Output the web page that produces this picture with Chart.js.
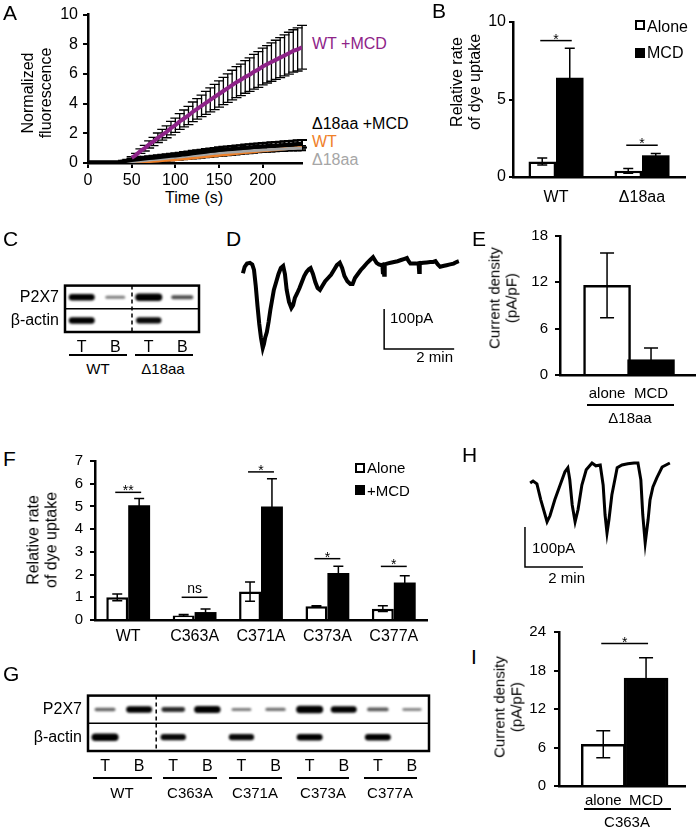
<!DOCTYPE html>
<html>
<head>
<meta charset="utf-8">
<script src="https://cdn.jsdelivr.net/npm/chart.js@4.4.0/dist/chart.umd.min.js"></script>
<style>
  body { margin: 0; background: #fff; width: 700px; height: 829px; position: relative; overflow: hidden;
         font-family: "Liberation Sans", Arial, sans-serif; color: #000; }
  .t { position: absolute; white-space: pre; line-height: 1.1; }
  .ln { position: absolute; background: #000; }
  .sw { position: absolute; box-sizing: border-box; border: 2.5px solid #000; }
</style>
</head>
<body>
<script>
// ---------- A: dye uptake time course ----------
var aTime = [0,5,10,15,20,25,30,35,40,45,50,55,60,65,70,75,80,85,90,95,100,105,110,115,120,125,130,135,140,145,150,155,160,165,170,175,180,185,190,195,200,205,210,215,220,225,230,235,240,245];
var aWtMcd = [null,null,null,null,null,null,null,null,null,null,
  0.35,0.55,0.8,1.0,1.25,1.45,1.7,1.9,2.1,2.35,2.55,2.8,3.0,3.2,3.45,3.65,3.85,4.05,4.25,4.45,
  4.65,4.85,5.05,5.25,5.45,5.6,5.8,5.95,6.15,6.3,6.5,6.65,6.8,6.95,7.1,7.25,7.4,7.55,7.65,7.8];
var aWtMcdErr = [0,0,0,0,0,0,0,0,0,0,
  0.07,0.1,0.15,0.19,0.24,0.28,0.32,0.36,0.4,0.45,0.48,0.53,0.57,0.61,0.66,0.69,0.73,0.77,0.81,0.85,
  0.88,0.92,0.96,1.0,1.04,1.06,1.1,1.13,1.17,1.2,1.24,1.26,1.29,1.32,1.35,1.38,1.41,1.43,1.45,1.48];
var aD18Mcd = [0.05,0.05,0.05,0.05,0.05,0.05,0.05,0.05,
  0.1,0.15,0.2,0.24,0.27,0.3,0.33,0.36,0.39,0.42,0.45,0.48,0.5,0.54,0.58,0.61,0.65,0.69,0.72,0.76,
  0.8,0.83,0.87,0.9,0.93,0.95,0.98,1.0,1.03,1.05,1.08,1.1,1.12,1.14,1.16,1.18,1.2,1.22,1.24,1.26,1.28,1.3];
var aD18McdErr = [0,0,0,0,0,0,0,0,
  0.05,0.07,0.09,0.1,0.11,0.12,0.12,0.13,0.13,0.14,0.14,0.15,0.15,0.15,0.16,0.16,0.17,0.17,0.17,0.18,
  0.18,0.18,0.19,0.19,0.19,0.2,0.2,0.2,0.21,0.21,0.21,0.22,0.22,0.22,0.23,0.23,0.23,0.24,0.24,0.24,0.25,0.25];
var aD18 = [0.05,0.05,0.05,0.05,0.05,0.05,0.05,0.05,0.05,0.05,
  0.08,0.11,0.14,0.17,0.2,0.23,0.26,0.29,0.32,0.35,0.38,0.41,0.44,0.47,0.5,0.53,0.56,0.59,0.62,0.65,
  0.67,0.7,0.72,0.74,0.76,0.78,0.8,0.82,0.84,0.86,0.88,0.89,0.91,0.92,0.94,0.95,0.97,0.98,0.99,1.0];
var aD18Err = [0,0,0,0,0,0,0,0,0,0,
  0.03,0.03,0.04,0.04,0.05,0.05,0.06,0.06,0.07,0.07,0.08,0.08,0.09,0.09,0.1,0.1,0.1,0.11,0.11,0.11,
  0.12,0.12,0.12,0.12,0.13,0.13,0.13,0.13,0.14,0.14,0.14,0.14,0.15,0.15,0.15,0.15,0.15,0.16,0.16,0.16];
var aWt = [0.02,0.02,0.02,0.02,0.02,0.02,0.02,0.02,0.02,0.02,
  0.02,0.04,0.06,0.08,0.1,0.12,0.14,0.16,0.18,0.2,0.22,0.25,0.28,0.31,0.34,0.37,0.4,0.43,0.46,0.49,
  0.52,0.55,0.58,0.61,0.64,0.67,0.7,0.73,0.76,0.79,0.82,0.85,0.88,0.9,0.93,0.96,0.98,1.0,1.02,1.05];
var aWtErr = [0,0,0,0,0,0,0,0,0,0,
  0.01,0.01,0.02,0.02,0.02,0.03,0.03,0.03,0.04,0.04,0.04,0.05,0.05,0.05,0.06,0.06,0.06,0.06,0.07,0.07,
  0.07,0.07,0.08,0.08,0.08,0.08,0.08,0.09,0.09,0.09,0.09,0.09,0.1,0.1,0.1,0.1,0.1,0.1,0.11,0.11];

// ---------- B: relative rate of dye uptake ----------
var bCats = ['WT', 'Δ18aa'];
var bAlone = [1.0, 0.4];
var bAloneErr = [0.22, 0.15];
var bMcd = [6.4, 1.4];
var bMcdErr = [1.9, 0.12];
var bSig = [{i: 0, y: 8.8, text: '*'}, {i: 1, y: 2.05, text: '*'}];

// ---------- C: blot ----------
var cLanes = ['T', 'B', 'T', 'B'];
var cRows = ['P2X7', 'β-actin'];
var cP2X7 = [0.9, 0.35, 1.0, 0.55];
var cActin = [0.9, 0, 0.85, 0];

// ---------- D: current trace (s, pA) ----------
var dTime = [5,8,12,17,21,24,27,30,33,36,39,41,43,46,49,52,55,58,62,66,70,74,77,80,84,88,91,94,98,102,106,110,114,118,121,125,129,133,137,141,146,151,156,161,166,171,175,179,184,189,193,197,202,207,212,218,223,228,231,234,238,242,244,245,246,247,248,252,258,264,270,276,282,286,289,292,296,302,306,307,308,314,320,326,331,335,339,343,348,354,360,366,371,375];
var dCurrent = [-38,-22,-14,-12,-16,-30,-70,-120,-165,-200,-225,-215,-200,-185,-160,-130,-105,-80,-60,-40,-25,-20,-40,-80,-110,-125,-118,-100,-88,-75,-60,-45,-35,-28,-25,-40,-60,-75,-80,-70,-58,-50,-42,-30,-18,-12,-25,-45,-58,-65,-65,-50,-40,-30,-22,-12,-5,2,-5,-12,-16,-18,-17,-40,-18,-42,-16,-14,-12,-10,-8,-5,-2,0,-8,-14,-14,-14,-13,-35,-13,-12,-11,-10,-10,-8,-16,-22,-20,-18,-16,-14,-10,-8];
var dBarT = [247, 247, 367];
var dBarI = [-127.5, -227.5, -227.5];

// ---------- E: current density, delta18aa ----------
var eCats = ['alone', 'MCD'];
var eVals = [11.6, 2.0];
var eErr = [4.2, 1.5];

// ---------- F: cysteine mutants ----------
var fCats = ['WT', 'C363A', 'C371A', 'C373A', 'C377A'];
var fAlone = [1.0, 0.2, 1.25, 0.6, 0.5];
var fAloneErr = [0.15, 0.04, 0.42, 0.03, 0.13];
var fMcd = [5.05, 0.35, 5.0, 2.07, 1.65];
var fMcdErr = [0.3, 0.13, 1.22, 0.3, 0.3];
var fSig = [{i: 0, y: 5.62, text: '**'}, {i: 1, y: 1.0, text: 'ns'}, {i: 2, y: 6.52, text: '*'},
            {i: 3, y: 2.7, text: '*'}, {i: 4, y: 2.36, text: '*'}];

// ---------- G: blot ----------
var gLanes = ['T','B','T','B','T','B','T','B','T','B'];
var gRows = ['P2X7', 'β-actin'];
var gP2X7 = [0.45, 0.9, 0.7, 0.95, 0.35, 0.4, 1.0, 0.9, 0.5, 0.3];
var gActin = [1.0, 0, 0.85, 0, 0.85, 0, 0.9, 0, 0.9, 0];

// ---------- H: current trace C363A ----------
var hTime = [21,27,35,43,52,56,62,72,83,93,99,103,108,114,120,128,137,149,157,166,172,176,180,184,190,197,201,211,223,236,244,250,254,259,265,269,275,283,294,302,310];
var hCurrent = [-50,-45,-52,-92,-130,-147,-132,-92,-55,-22,-12,-42,-105,-147,-117,-55,-17,0,-7,-5,-55,-130,-175,-142,-80,-37,-12,-5,-2,0,0,-42,-130,-200,-142,-92,-60,-37,-10,-5,0];
var hBarT = [10.3, 10.3, 130.3];
var hBarI = [-160, -260, -260];

// ---------- I: current density, C363A ----------
var iCats = ['alone', 'MCD'];
var iVals = [6.5, 16.8];
var iErr = [2.1, 3.2];
var iSig = [{y: 22.2, text: '*'}];

Chart.defaults.font.family = '"Liberation Sans", Arial, sans-serif';
Chart.defaults.color = '#000';
Chart.defaults.animation = false;
Chart.defaults.responsive = false;
Chart.defaults.devicePixelRatio = 1;
Chart.defaults.plugins.legend.display = false;
Chart.defaults.plugins.tooltip.enabled = false;

function canvasAt(left, top, w, h) {
  var c = document.createElement('canvas');
  c.width = w; c.height = h;
  c.style.cssText = 'position:absolute;left:' + left + 'px;top:' + top + 'px;width:' + w + 'px;height:' + h + 'px';
  document.body.appendChild(c);
  return c.getContext('2d');
}

function text(s, x, y, size, align, color, rot) {
  var d = document.createElement('div');
  d.className = 't';
  d.textContent = s;
  var tx = align === 'l' ? '0' : (align === 'r' ? '-100%' : '-50%');
  d.style.cssText = 'left:' + x + 'px;top:' + y + 'px;font-size:' + size + 'px;color:' + (color || '#000') +
    ';text-align:center;transform:translate(' + tx + ',-50%)' + (rot ? ' rotate(-90deg)' : '');
  document.body.appendChild(d);
}
function letter(s, x, y) {
  var d = document.createElement('div');
  d.className = 't';
  d.textContent = s;
  d.style.cssText = 'left:' + x + 'px;top:' + y + 'px;font-size:21px;line-height:1';
  document.body.appendChild(d);
}
function hline(x1, x2, y, w) {
  var d = document.createElement('div');
  d.className = 'ln';
  d.style.cssText = 'left:' + x1 + 'px;top:' + (y - w / 2) + 'px;width:' + (x2 - x1) + 'px;height:' + w + 'px';
  document.body.appendChild(d);
}
function swatch(x, y, s, fill) {
  var d = document.createElement('div');
  d.className = 'sw';
  d.style.cssText = 'left:' + x + 'px;top:' + y + 'px;width:' + s + 'px;height:' + s + 'px;background:' + fill;
  document.body.appendChild(d);
}

function valAxis(min, max, step, width, size, pad, tick) {
  return {
    min: min, max: max,
    ticks: {stepSize: step, font: {size: size}, padding: pad, color: '#000'},
    grid: {drawOnChartArea: false, color: '#000', lineWidth: 2, tickLength: tick},
    border: {color: '#000', width: 2.5},
    afterFit: function(s) { s.width = width; }
  };
}
function catAxis(height, size, pad) {
  return {
    ticks: {font: {size: size}, padding: pad, color: '#000', autoSkip: false, maxRotation: 0},
    grid: {display: false, drawTicks: false},
    border: {color: '#000', width: 2.5},
    afterFit: function(s) { s.height = height; }
  };
}

// error bars: under the lines of a line chart, over the bars of a bar chart
function drawErrors(chart) {
  var ctx = chart.ctx, ys = chart.scales.y;
  chart.data.datasets.forEach(function(ds, i) {
    if (!ds.errors) return;
    var meta = chart.getDatasetMeta(i);
    ctx.save();
    ctx.strokeStyle = '#000';
    ctx.lineWidth = ds.errWidth || 1.5;
    meta.data.forEach(function(el, j) {
      var e = ds.errors[j], p = meta.controller.getParsed(j);
      if (!e || !p || p.y == null || isNaN(p.y)) return;
      var y1 = ys.getPixelForValue(p.y + e), y2 = ys.getPixelForValue(p.y - e), c = ds.capWidth || 5;
      ctx.beginPath();
      ctx.moveTo(el.x, y1); ctx.lineTo(el.x, y2);
      ctx.moveTo(el.x - c, y1); ctx.lineTo(el.x + c, y1);
      ctx.moveTo(el.x - c, y2); ctx.lineTo(el.x + c, y2);
      ctx.stroke();
    });
    ctx.restore();
  });
}
Chart.register({
  id: 'errorBars',
  beforeDatasetsDraw: function(chart) { if (chart.config.type !== 'bar') drawErrors(chart); },
  afterDatasetsDraw: function(chart) { if (chart.config.type === 'bar') drawErrors(chart); }
});

function sigPlugin(items) {
  return {
    id: 'sig',
    afterDatasetsDraw: function(chart) {
      var ctx = chart.ctx, ys = chart.scales.y;
      items.forEach(function(it) {
        var a = chart.getDatasetMeta(it.a[0]).data[it.a[1]];
        var b = chart.getDatasetMeta(it.b[0]).data[it.b[1]];
        var py = ys.getPixelForValue(it.y);
        ctx.save();
        ctx.strokeStyle = '#000'; ctx.lineWidth = 1.5;
        ctx.beginPath(); ctx.moveTo(a.x - 2, py); ctx.lineTo(b.x + 2, py); ctx.stroke();
        ctx.fillStyle = '#000';
        ctx.font = '14px "Liberation Sans", Arial, sans-serif';
        ctx.textAlign = 'center'; ctx.textBaseline = 'alphabetic';
        ctx.fillText(it.text, (a.x + b.x) / 2, it.text === 'ns' ? py - 4 : py + 3);
        ctx.restore();
      });
    }
  };
}

// blot bands: one soft rounded band per lane, darker and wider with intensity
function blotPlugin(split) {
  return {
    id: 'blot',
    beforeDatasetsDraw: function(chart) {
      var ctx = chart.ctx, a = chart.chartArea, xs = chart.scales.x, ys = chart.scales.y;
      chart.data.datasets.forEach(function(ds, i) {
        var meta = chart.getDatasetMeta(i);
        meta.data.forEach(function(el, j) {
          var I = ds.bands[j];
          if (!I) return;
          var w = 16 + 11 * I, h = 2.5 + 5 * I * I;
          ctx.save();
          ctx.filter = 'blur(1px)';
          ctx.fillStyle = 'rgba(0,0,0,' + Math.min(1, 0.2 + 0.9 * I) + ')';
          ctx.beginPath();
          ctx.roundRect(el.x - w / 2, el.y - h / 2, w, h, h / 2);
          ctx.fill();
          ctx.restore();
        });
      });
      ctx.save();
      ctx.strokeStyle = '#000';
      ctx.lineWidth = 2.5;
      ctx.strokeRect(a.left, a.top, a.right - a.left, a.bottom - a.top);
      var ym = (ys.getPixelForValue(0) + ys.getPixelForValue(1)) / 2;
      ctx.lineWidth = 1.5;
      ctx.beginPath(); ctx.moveTo(a.left, ym); ctx.lineTo(a.right, ym); ctx.stroke();
      var xd = (xs.getPixelForValue(split - 1) + xs.getPixelForValue(split)) / 2;
      ctx.setLineDash([4, 3]);
      ctx.beginPath(); ctx.moveTo(xd, a.top); ctx.lineTo(xd, a.bottom); ctx.stroke();
      ctx.restore();
    }
  };
}

function blotChart(ctx, lanes, rows, top, bottom, split, yW, xH, pad) {
  return new Chart(ctx, {
    type: 'scatter',
    data: {
      datasets: [
        {data: lanes.map(function(l, i) { return {x: i, y: rows[0]}; }), bands: top, pointRadius: 0},
        {data: lanes.map(function(l, i) { return {x: i, y: rows[1]}; }), bands: bottom, pointRadius: 0}
      ]
    },
    options: {
      layout: {padding: pad},
      scales: {
        x: {type: 'category', labels: lanes, offset: true,
            ticks: {font: {size: 16}, padding: 6, color: '#000', autoSkip: false, maxRotation: 0},
            grid: {display: false, drawTicks: false}, border: {display: false},
            afterFit: function(s) { s.height = xH; }},
        y: {type: 'category', labels: rows, offset: true,
            ticks: {font: {size: 16}, padding: 6, color: '#000'},
            grid: {display: false, drawTicks: false}, border: {display: false},
            afterFit: function(s) { s.width = yW; }}
      }
    },
    plugins: [blotPlugin(split)]
  });
}

function traceChart(ctx, t, v, barT, barI, xmax, ymin, ymax, w) {
  return new Chart(ctx, {
    type: 'scatter',
    data: {
      datasets: [
        {data: t.map(function(x, i) { return {x: x, y: v[i]}; }), showLine: true,
         borderColor: '#000', borderWidth: w, pointRadius: 0, tension: 0},
        {data: barT.map(function(x, i) { return {x: x, y: barI[i]}; }), showLine: true,
         borderColor: '#000', borderWidth: 1.5, pointRadius: 0}
      ]
    },
    options: {
      layout: {padding: 0},
      scales: {
        x: {type: 'linear', display: false, min: 0, max: xmax},
        y: {type: 'linear', display: false, min: ymin, max: ymax}
      }
    }
  });
}

// ===== A =====
new Chart(canvasAt(0, 0, 312, 185), {
  type: 'line',
  data: {
    labels: aTime,
    datasets: [
      {data: aWtMcd, errors: aWtMcdErr, borderColor: '#8E2388', borderWidth: 4, pointRadius: 0, capWidth: 5, errWidth: 1.3},
      {data: aD18Mcd, errors: aD18McdErr, borderColor: '#000', borderWidth: 4, pointRadius: 0, capWidth: 5, errWidth: 2},
      {data: aD18, errors: aD18Err, borderColor: '#A6A6A6', borderWidth: 3, pointRadius: 0, capWidth: 4},
      {data: aWt, errors: aWtErr, borderColor: '#F08028', borderWidth: 3, pointRadius: 0, capWidth: 4}
    ]
  },
  options: {
    layout: {padding: {top: 14, right: 10, left: 0, bottom: 0}},
    scales: {
      x: {type: 'linear', min: 0, max: 245,
          ticks: {stepSize: 50, includeBounds: false, font: {size: 16}, padding: 3, color: '#000', maxRotation: 0},
          grid: {drawOnChartArea: false, color: '#000', lineWidth: 2, tickLength: 5},
          border: {color: '#000', width: 2.5},
          afterFit: function(s) { s.height = 22; }},
      y: valAxis(0, 10, 2, 88, 16, 5, 5)
    }
  }
});
letter('A', 3, 2);
text('Normalized\nfluorescence', 37, 93, 16, 'c', '#000', true);
text('Time (s)', 194, 198, 16, 'c');
text('WT +MCD', 312, 44, 16, 'l', '#8E2388');
text('Δ18aa +MCD', 312, 124, 16, 'l', '#000');
text('WT', 312, 142, 16, 'l', '#F08028');
text('Δ18aa', 312, 160, 16, 'l', '#A6A6A6');

// ===== B =====
new Chart(canvasAt(440, 0, 250, 215), {
  type: 'bar',
  data: {
    labels: bCats,
    datasets: [
      {data: bAlone, errors: bAloneErr, backgroundColor: '#fff', borderColor: '#000', borderWidth: 2.5,
       categoryPercentage: 0.64, barPercentage: 1},
      {data: bMcd, errors: bMcdErr, backgroundColor: '#000', borderColor: '#000', borderWidth: 0,
       categoryPercentage: 0.64, barPercentage: 1}
    ]
  },
  options: {
    layout: {padding: {top: 22, right: 5}},
    scales: {x: catAxis(38, 16, 11), y: valAxis(0, 10, 5, 73, 16, 3, 4)}
  },
  plugins: [sigPlugin(bSig.map(function(s) { return {a: [0, s.i], b: [1, s.i], y: s.y, text: s.text}; }))]
});
letter('B', 432, 0);
text('Relative rate\nof dye uptake', 466, 82, 16, 'c', '#000', true);
swatch(635, 20, 10, '#fff');
swatch(635, 48, 10, '#000');
text('Alone', 647, 27, 16, 'l');
text('MCD', 647, 53, 16, 'l');

// ===== C =====
blotChart(canvasAt(0, 270, 205, 82), cLanes, cRows, cP2X7, cActin, 2, 65, 20, {top: 6, right: 6});
letter('C', 3, 228);
hline(69, 127, 355, 1.5);
hline(135, 193, 355, 1.5);
text('WT', 98, 369, 15, 'c');
text('Δ18aa', 163, 369, 15, 'c');

// ===== D =====
traceChart(canvasAt(240, 250, 220, 110), dTime, dCurrent, dBarT, dBarI, 377, -255, 20, 4);
letter('D', 226, 228);
text('100pA', 390, 318, 15, 'l');
text('2 min', 453, 357, 15, 'r');

// ===== E =====
new Chart(canvasAt(500, 220, 205, 185), {
  type: 'bar',
  data: {
    datasets: [
      {data: eCats.map(function(c, i) { return {x: i + 1, y: eVals[i]}; }), errors: eErr,
       backgroundColor: ['#fff', '#000'], borderColor: '#000', borderWidth: 2.5, barThickness: 47, capWidth: 7}
    ]
  },
  options: {
    layout: {padding: {top: 13, right: 7}},
    scales: {
      x: {type: 'linear', min: -0.07, max: 3, offset: false,
          ticks: {stepSize: 1, includeBounds: false, autoSkip: false, maxRotation: 0, font: {size: 15}, padding: 10, color: '#000',
                  callback: function(v) { return eCats[v - 1] || ''; }},
          grid: {display: false, drawTicks: false, offset: false}, border: {color: '#000', width: 2.5},
          afterFit: function(s) { s.height = 30; }},
      y: valAxis(0, 18, 6, 60, 15, 7, 5)
    }
  }
});
letter('E', 472, 228);
text('Current density\n(pA/pF)', 503, 298, 15, 'c', '#000', true);
hline(587, 674, 405, 1.5);
text('Δ18aa', 630, 418, 15, 'c');

// ===== F =====
new Chart(canvasAt(30, 445, 405, 200), {
  type: 'bar',
  data: {
    labels: fCats,
    datasets: [
      {data: fAlone, errors: fAloneErr, backgroundColor: '#fff', borderColor: '#000', borderWidth: 2.5,
       categoryPercentage: 0.66, barPercentage: 1},
      {data: fMcd, errors: fMcdErr, backgroundColor: '#000', borderColor: '#000', borderWidth: 0,
       categoryPercentage: 0.66, barPercentage: 1}
    ]
  },
  options: {
    layout: {padding: {top: 12, right: 8}},
    scales: {x: catAxis(25, 16, 7), y: valAxis(0, 7, 1, 65, 15, 7, 5)}
  },
  plugins: [sigPlugin(fSig.map(function(s) { return {a: [0, s.i], b: [1, s.i], y: s.y, text: s.text}; }))]
});
letter('F', 3, 448);
text('Relative rate\nof dye uptake', 42, 540, 16, 'c', '#000', true);
swatch(355, 463, 10, '#fff');
swatch(355, 485, 10, '#000');
text('Alone', 367, 468, 15, 'l');
text('+MCD', 367, 491, 15, 'l');

// ===== G =====
blotChart(canvasAt(0, 680, 436, 100), gLanes, gRows, gP2X7, gActin, 2, 88, 29, {top: 5, right: 7});
letter('G', 3, 663);
hline(93, 152, 778, 1.5);
hline(163, 217, 778, 1.5);
hline(229, 282, 778, 1.5);
hline(297, 349, 778, 1.5);
hline(364, 417, 778, 1.5);
text('WT', 122, 793, 15, 'c');
text('C363A', 190, 793, 15, 'c');
text('C371A', 255, 793, 15, 'c');
text('C373A', 323, 793, 15, 'c');
text('C377A', 390, 793, 15, 'c');

// ===== H =====
traceChart(canvasAt(520, 455, 160, 120), hTime, hCurrent, hBarT, hBarI, 331, -280, 20, 3);
letter('H', 462, 444);
text('100pA', 532, 548, 15, 'l');
text('2 min', 585, 578, 15, 'r');

// ===== I =====
new Chart(canvasAt(495, 615, 200, 200), {
  type: 'bar',
  data: {
    datasets: [
      {data: iCats.map(function(c, i) { return {x: i + 1, y: iVals[i]}; }), errors: iErr,
       backgroundColor: ['#fff', '#000'], borderColor: '#000', borderWidth: 2.5, barThickness: 44, capWidth: 7}
    ]
  },
  options: {
    layout: {padding: {top: 12, right: 10}},
    scales: {
      x: {type: 'linear', min: -0.034, max: 2.91, offset: false,
          ticks: {stepSize: 1, includeBounds: false, autoSkip: false, maxRotation: 0, font: {size: 15}, padding: 6, color: '#000',
                  callback: function(v) { return iCats[v - 1] || ''; }},
          grid: {display: false, drawTicks: false, offset: false}, border: {color: '#000', width: 2.5},
          afterFit: function(s) { s.height = 29; }},
      y: valAxis(0, 24, 6, 64, 15, 8, 5)
    }
  },
  plugins: [sigPlugin(iSig.map(function(s) { return {a: [0, 0], b: [0, 1], y: s.y, text: s.text}; }))]
});
letter('I', 471, 646);
text('Current density\n(pA/pF)', 508, 707, 15, 'c', '#000', true);
hline(584, 671, 809, 1.5);
text('C363A', 627, 822, 15, 'c');
</script>
</body>
</html>
